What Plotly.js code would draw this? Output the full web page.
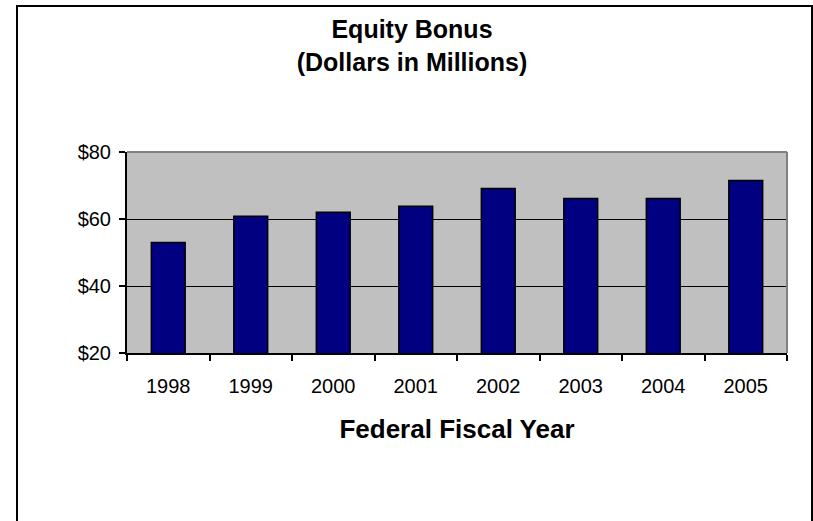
<!DOCTYPE html>
<html>
<head>
<meta charset="utf-8">
<script src="https://cdn.plot.ly/plotly-3.0.1.min.js"></script>
<style>
html,body{margin:0;padding:0;background:#fff;overflow:hidden;}
#chart{width:813px;height:521px;}
#frame{position:absolute;left:16px;top:5px;width:797px;height:600px;box-sizing:border-box;border-left:2px solid #000;border-top:2px solid #000;border-right:2px solid #000;pointer-events:none;}
</style>
</head>
<body>
<div id="chart"></div>
<div id="frame"></div>
<script>
var years = ['1998','1999','2000','2001','2002','2003','2004','2005'];
var equityBonus = [53.0, 60.8, 62.0, 63.8, 69.1, 66.1, 66.1, 71.5];
var yTicks = [20, 40, 60, 80];
var yTickLabels = ['$20', '$40', '$60', '$80'];

var font = 'Arial, "Liberation Sans", Helvetica, sans-serif';

var trace = {
  type: 'bar',
  x: years,
  y: equityBonus,
  marker: {color: '#000080', line: {color: '#000000', width: 1.5}},
  hoverinfo: 'x+y'
};

var layout = {
  width: 813,
  height: 521,
  margin: {l: 127, r: 26, t: 152, b: 168},
  paper_bgcolor: '#ffffff',
  plot_bgcolor: '#C0C0C0',
  showlegend: false,
  bargap: 0.59,
  font: {family: font, color: '#000', size: 20},
  title: {
    text: '<b>Equity Bonus</b><br><b>(Dollars in Millions)</b>',
    font: {family: font, size: 25, color: '#000'},
    x: 412/813, xref: 'container', xanchor: 'center',
    y: 1 - 38/521, yref: 'container', yanchor: 'top'
  },
  xaxis: {
    type: 'category',
    showgrid: false,
    showline: true, linecolor: '#000', linewidth: 2,
    ticks: 'outside', tickson: 'boundaries', ticklen: 6, tickwidth: 2, tickcolor: '#000',
    tickfont: {family: font, size: 20, color: '#000'},
    ticklabelstandoff: 14,
    title: {text: '<b>Federal Fiscal Year</b>', font: {family: font, size: 26, color: '#000'}, standoff: 24},
    fixedrange: true
  },
  yaxis: {
    range: [20, 80],
    tickvals: yTicks,
    ticktext: yTickLabels,
    showgrid: true, gridcolor: '#000', gridwidth: 1,
    showline: true, linecolor: '#000', linewidth: 2,
    ticks: 'outside', ticklen: 6, tickwidth: 2, tickcolor: '#000',
    tickfont: {family: font, size: 20, color: '#000'},
    ticklabelstandoff: 4,
    zeroline: false,
    fixedrange: true
  },
  shapes: [
    {type: 'line', xref: 'paper', yref: 'paper', x0: 0, x1: 1, y0: 1, y1: 1, line: {color: '#808080', width: 2}},
    {type: 'line', xref: 'paper', yref: 'paper', x0: 1, x1: 1, y0: 0, y1: 1, line: {color: '#808080', width: 2}}
  ]
};

Plotly.newPlot('chart', [trace], layout, {displayModeBar: false, staticPlot: true});
</script>
</body>
</html>
